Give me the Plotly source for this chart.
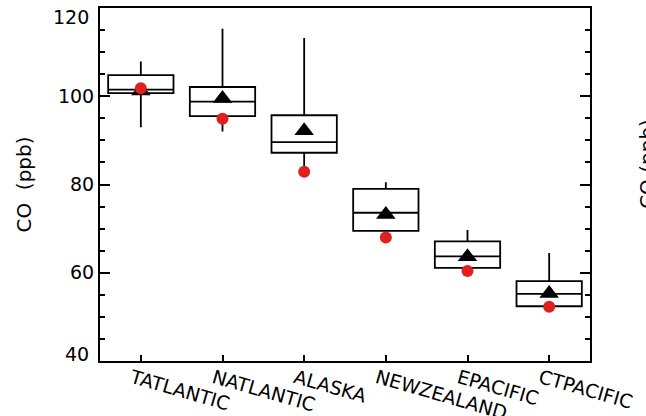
import plotly.graph_objects as go

regions = ["TATLANTIC", "NATLANTIC", "ALASKA", "NEWZEALAND", "EPACIFIC", "CTPACIFIC"]
whisker_low = [93.0, 92.0, 83.5, 69.0, 60.8, 52.5]
q1 = [100.7, 95.5, 87.2, 69.5, 61.1, 52.4]
median = [101.5, 98.8, 89.6, 73.6, 63.7, 55.2]
q3 = [104.8, 102.1, 95.7, 79.0, 67.1, 58.1]
whisker_high = [107.9, 115.3, 113.2, 80.5, 69.7, 64.5]
mean_vals = [101.2, 99.5, 92.2, 73.2, 63.6, 55.3]
red_vals = [101.8, 94.9, 82.9, 68.0, 60.4, 52.3]
y_ticks = [40, 60, 80, 100, 120]

FONT = "DejaVu Sans"
Y_MIN, Y_MAX = y_ticks[0], y_ticks[-1]

fig = go.Figure()
fig.add_trace(go.Box(
    x=regions, q1=q1, median=median, q3=q3,
    lowerfence=whisker_low, upperfence=whisker_high,
    width=0.8, whiskerwidth=0,
    fillcolor="white", line=dict(color="black", width=1.8),
    boxpoints=False, hoverinfo="skip", showlegend=False,
))
fig.add_trace(go.Scatter(
    x=regions, y=mean_vals, mode="markers",
    marker=dict(symbol="triangle-up", size=17, color="black"),
    showlegend=False,
))
fig.add_trace(go.Scatter(
    x=regions, y=red_vals, mode="markers",
    marker=dict(symbol="circle", size=12, color="#e0201f"),
    showlegend=False,
))

# inner tick labels on the axis; the two end labels are nudged inside like the original
tick_text = [str(v) if Y_MIN < v < Y_MAX else "" for v in y_ticks]
end_labels = [
    dict(text=str(Y_MAX), xref="paper", yref="y", x=0, y=Y_MAX, xanchor="right",
         yanchor="middle", xshift=-9, yshift=-9, showarrow=False,
         font=dict(family=FONT, size=19)),
    dict(text=str(Y_MIN), xref="paper", yref="y", x=0, y=Y_MIN, xanchor="right",
         yanchor="middle", xshift=-9, yshift=7, showarrow=False,
         font=dict(family=FONT, size=19)),
]

fig.update_layout(
    width=646, height=416,
    margin=dict(l=100, r=56, t=8, b=55),
    paper_bgcolor="white", plot_bgcolor="white",
    font=dict(family=FONT, size=19, color="black"),
    xaxis=dict(
        type="category", range=[-0.5, 5.5], automargin=False,
        showline=True, linecolor="black", linewidth=2, mirror=True,
        ticks="inside", ticklen=6, tickcolor="black", tickwidth=1.5,
        tickangle=16, ticklabelshift=-9, ticklabelstandoff=-3,
        ticklabeloverflow="allow",
        showgrid=False, zeroline=False,
        tickfont=dict(family=FONT, size=19),
    ),
    yaxis=dict(
        range=[Y_MIN - 0.01, Y_MAX + 0.01], tickvals=y_ticks, ticktext=tick_text,
        automargin=False,
        showline=True, linecolor="black", linewidth=2, mirror="ticks",
        ticks="inside", ticklen=10, tickcolor="black", tickwidth=1.5,
        minor=dict(dtick=5, ticks="inside", ticklen=5, tickcolor="black", tickwidth=1.5),
        ticklabeloverflow="allow",
        showgrid=False, zeroline=False,
        tickfont=dict(family=FONT, size=19),
    ),
    annotations=end_labels + [
        dict(text="CO\u00a0\u00a0(ppb)", xref="paper", yref="paper", x=-0.157, y=0.50,
             xanchor="center", yanchor="middle", textangle=-90, showarrow=False,
             font=dict(family=FONT, size=20)),
        dict(text="CO\u00a0(ppb)", xref="paper", yref="paper", x=1.116, y=0.558,
             xanchor="center", yanchor="middle", textangle=-90, showarrow=False,
             font=dict(family=FONT, size=20)),
    ],
)

fig.write_html("out.html", config={"displayModeBar": False},
               post_script="document.body.style.margin='0';")
